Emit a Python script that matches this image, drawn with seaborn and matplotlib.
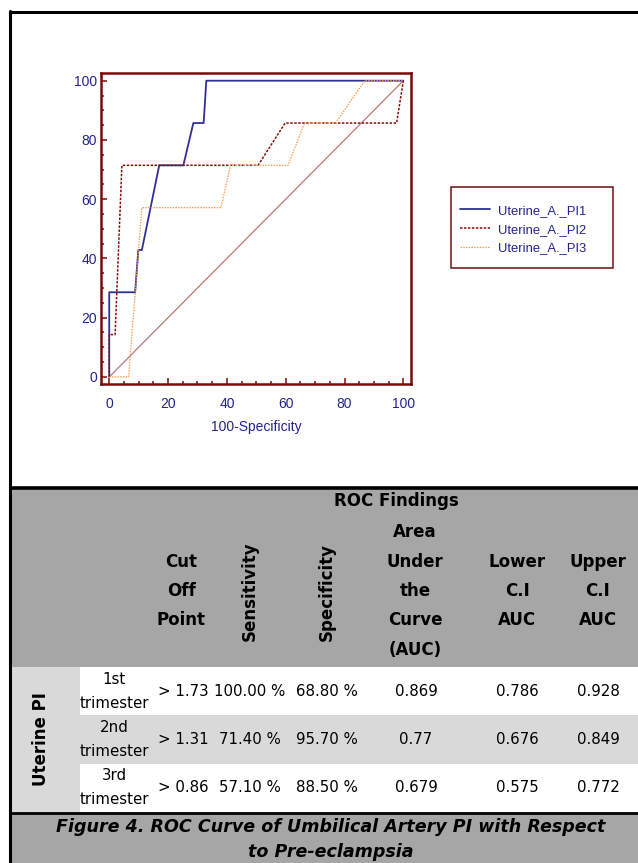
import matplotlib
matplotlib.use("Agg")
import matplotlib.pyplot as plt
from matplotlib.patches import Rectangle
from matplotlib.lines import Line2D
from matplotlib.ticker import MultipleLocator
import pandas as pd
import seaborn as sns

# ROC curves: x = 100-specificity, y = sensitivity
pi1_x = [0, 0, 8.8, 9.9, 11.1, 17.0, 25.2, 28.6, 32.1, 33.0, 100]
pi1_y = [0, 28.57, 28.57, 42.86, 42.86, 71.43, 71.43, 85.71, 85.71, 100, 100]
pi2_x = [0, 0, 2.0, 4.3, 50.6, 59.8, 97.7, 100]
pi2_y = [0, 14.29, 14.29, 71.43, 71.43, 85.71, 85.71, 100]
pi3_x = [0, 6.6, 11.1, 38.0, 41.2, 60.8, 66.4, 76.9, 86.9, 100]
pi3_y = [0, 0, 57.14, 57.14, 71.43, 71.43, 85.71, 85.71, 100, 100]
diag = [0, 100]
series_names = ["Uterine_A._PI1", "Uterine_A._PI2", "Uterine_A._PI3"]

# table
trimesters = ["1st\ntrimester", "2nd\ntrimester", "3rd\ntrimester"]
cut_off = ["> 1.73", "> 1.31", "> 0.86"]
sensitivity = ["100.00 %", "71.40 %", "57.10 %"]
specificity = ["68.80 %", "95.70 %", "88.50 %"]
auc = ["0.869", "0.77", "0.679"]
lower_ci = ["0.786", "0.676", "0.575"]
upper_ci = ["0.928", "0.849", "0.772"]

sns.set_style("white")
plt.rcParams["font.family"] = ["Liberation Sans", "DejaVu Sans"]

W, H = 638, 863
fig = plt.figure(figsize=(W / 100, H / 100), dpi=100)
fig.patch.set_facecolor("white")


def fx(px):
    return px / W


def fy(py):
    return 1 - py / H


def box(x0, y0, x1, y1, color):
    fig.patches.append(Rectangle((fx(x0), fy(y1)), (x1 - x0) / W, (y1 - y0) / H,
                                 transform=fig.transFigure, facecolor=color,
                                 edgecolor="none", zorder=0))


def hline(x0, x1, y, lw):
    fig.add_artist(Line2D([fx(x0), fx(x1)], [fy(y), fy(y)], color="black", lw=lw,
                          solid_capstyle="butt"))


# ---- ROC plot ----
navy = "#23238e"
maroon = "#7a0a0a"
colors = {series_names[0]: "#2e3192", series_names[1]: "#8b0a0a", series_names[2]: "#ff9a4a"}
dashes = {series_names[0]: "", series_names[1]: (1.6, 1.0), series_names[2]: (1.2, 1.0)}

df = pd.concat([
    pd.DataFrame({"x": pi1_x, "y": pi1_y, "test": series_names[0]}),
    pd.DataFrame({"x": pi2_x, "y": pi2_y, "test": series_names[1]}),
    pd.DataFrame({"x": pi3_x, "y": pi3_y, "test": series_names[2]}),
], ignore_index=True)

ax = fig.add_axes([fx(101), fy(384), (411 - 101) / W, (384 - 73) / H])
ax.plot(diag, diag, color="#b87878", lw=0.9, zorder=1)
sns.lineplot(data=df, x="x", y="y", hue="test", style="test", palette=colors,
             dashes=dashes, sort=False, estimator=None, legend=False, ax=ax,
             linewidth=1.2)
widths = [1.3, 1.1, 0.9]
for line, lw in zip(ax.lines[1:], widths):
    line.set_linewidth(lw)

ax.set_xlim(-2.8, 102.6)
ax.set_ylim(-2.4, 102.6)
ax.set_xticks(range(0, 101, 20))
ax.set_yticks(range(0, 101, 20))
ax.xaxis.set_minor_locator(MultipleLocator(5))
ax.yaxis.set_minor_locator(MultipleLocator(5))
ax.tick_params(which="both", direction="in", color=maroon, width=1.1,
               labelcolor=navy, labelsize=10, top=False, right=False,
               bottom=True, left=True)
ax.tick_params(which="major", length=4.5)
ax.tick_params(which="minor", length=2.5)
ax.tick_params(axis="x", pad=9)
ax.tick_params(axis="y", pad=3)
for s in ax.spines.values():
    s.set_color(maroon)
    s.set_linewidth(1.8)
ax.set_xlabel("100-Specificity", color=navy, fontsize=10, labelpad=7)
ax.set_ylabel("")

# legend
fig.patches.append(Rectangle((fx(451), fy(268)), (613 - 451) / W, (268 - 187) / H,
                             transform=fig.transFigure, facecolor="white",
                             edgecolor="#6a1010", lw=1.1, zorder=1))
handles = [Line2D([], [], color=colors[n], lw=w,
                  linestyle="-" if n == series_names[0] else (0, dashes[n]))
           for n, w in zip(series_names, widths)]
leg = fig.legend(handles, series_names, loc="upper left",
                 bbox_to_anchor=(fx(453), fy(198)), frameon=False, borderpad=0,
                 fontsize=9.4, handlelength=2.35, handletextpad=0.6, labelspacing=0.52)
for t in leg.get_texts():
    t.set_color(navy)

# ---- outer frame and table ----
hline(9, W, 12, 2.2)
fig.add_artist(Line2D([fx(10), fx(10)], [fy(11), fy(H)], color="black", lw=2.2))
box(11, 489, W, 667, "#a6a6a6")
box(11, 667, 80, 812, "#d9d9d9")
box(80, 715, W, 764, "#d9d9d9")
box(11, 813, W, H, "#a6a6a6")
hline(10, W, 488, 2.6)
hline(10, W, 812.5, 2.0)

tf = "DejaVu Sans"
hdr = dict(fontsize=12, fontweight="bold", family=tf, color="black",
           ha="center", va="center")
fig.text(fx(396), fy(501), "ROC Findings", **hdr)
for label, xc in [("Cut\nOff\nPoint", 181), ("Lower\nC.I\nAUC", 517), ("Upper\nC.I\nAUC", 598)]:
    fig.text(fx(xc), fy(591), label, linespacing=1.82, **hdr)
fig.text(fx(415), fy(591), "Area\nUnder\nthe\nCurve\n(AUC)", linespacing=1.82, **hdr)
fig.text(fx(250), fy(591), "Sensitivity", rotation=90, **hdr)
fig.text(fx(327), fy(592), "Specificity", rotation=90, **hdr)
fig.text(fx(41), fy(739), "Uterine PI", rotation=90, **hdr)

body = dict(fontsize=10.8, family=tf, color="black", va="center")
row_y = [691, 739, 787]
for i, yc in enumerate(row_y):
    fig.text(fx(114), fy(yc), trimesters[i], ha="center", linespacing=1.75, **body)
    fig.text(fx(183), fy(yc), cut_off[i], ha="center", **body)
    fig.text(fx(250), fy(yc), sensitivity[i], ha="center", **body)
    fig.text(fx(327), fy(yc), specificity[i], ha="center", **body)
    fig.text(fx(416), fy(yc), auc[i], ha="center", **body)
    fig.text(fx(517), fy(yc), lower_ci[i], ha="center", **body)
    fig.text(fx(598), fy(yc), upper_ci[i], ha="center", **body)

fig.text(fx(331), fy(839), "Figure 4. ROC Curve of Umbilical Artery PI with Respect\nto Pre-eclampsia",
         fontsize=12.6, fontweight="bold", fontstyle="italic", family=tf, color="black",
         ha="center", va="center", linespacing=1.5)

fig.savefig("out.png", dpi=100)
